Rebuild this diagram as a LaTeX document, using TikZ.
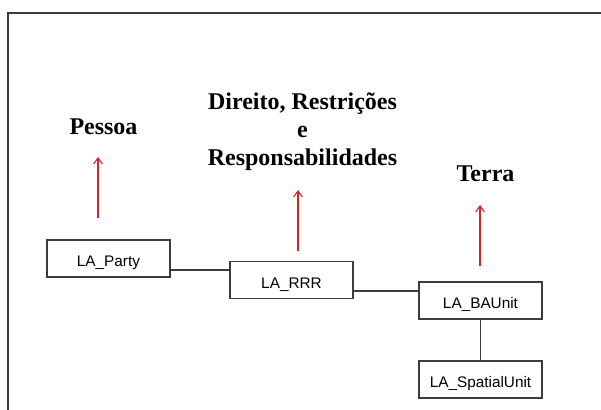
\documentclass[tikz,border=0pt]{standalone}
\usepackage{fontspec}
\setmainfont{Liberation Serif}
\setsansfont{Liberation Sans}
\definecolor{arrowred}{RGB}{214, 36, 40}
\definecolor{framegray}{RGB}{60, 60, 60}
\usetikzlibrary{arrows.meta, positioning}

\begin{document}
\begin{tikzpicture}[x=0.75pt, y=-0.75pt,
  classbox/.style={draw=framegray, line width=0.9pt, minimum width=92.25pt, minimum height=27.75pt, inner sep=0pt, text height=12pt, text depth=0pt, font=\fontsize{11.5}{13}\selectfont\sffamily},
  title/.style={anchor=base, font=\fontsize{18}{21.2}\selectfont\bfseries, align=center},
  link/.style={draw=framegray, line width=0.9pt},
  upto/.style={draw=arrowred, line width=0.8pt, -{Straight Barb[length=4.5pt, width=6.5pt]}}]
  \useasboundingbox (0,0) rectangle (601,410);

  % frame
  \draw[framegray, line width=1.3pt] (601,13) -- (8,13) -- (8,410);

  % classes
  \node[classbox] (party) at (108.5, 258.5) {LA\_Party};
  \node[classbox] (rrr) at (291.5, 280) {LA\_RRR};
  \node[classbox] (baunit) at (480.5, 300.5) {LA\_BAUnit};
  \node[classbox] (spatial) at (480.5, 379.5) {LA\_SpatialUnit};

  % associations
  \coordinate (j1) at (200, 270);
  \coordinate (j2) at (386, 291);
  \draw[link] (party.east |- j1) -- (rrr.west |- j1);
  \draw[link] (rrr.east |- j2) -- (baunit.west |- j2);
  \draw[link] (baunit) -- (spatial);

  % titles
  \node[title] (pessoa) at (103.5, 135) {Pessoa};
  \node[title, anchor=north] (direito) at (302.5, 88) {Direito, Restrições\\e\\Responsabilidades};
  \node[title] (terra) at (485.5, 182) {Terra};

  % arrows
  \coordinate (a1) at (98, 218);
  \coordinate (b1) at (98, 157);
  \coordinate (a2) at (298, 251);
  \coordinate (b2) at (298, 190);
  \coordinate (a3) at (480, 266);
  \coordinate (b3) at (480, 205);
  \draw[upto] (a1) -- (b1);
  \draw[upto] (a2) -- (b2);
  \draw[upto] (a3) -- (b3);
\end{tikzpicture}
\end{document}
